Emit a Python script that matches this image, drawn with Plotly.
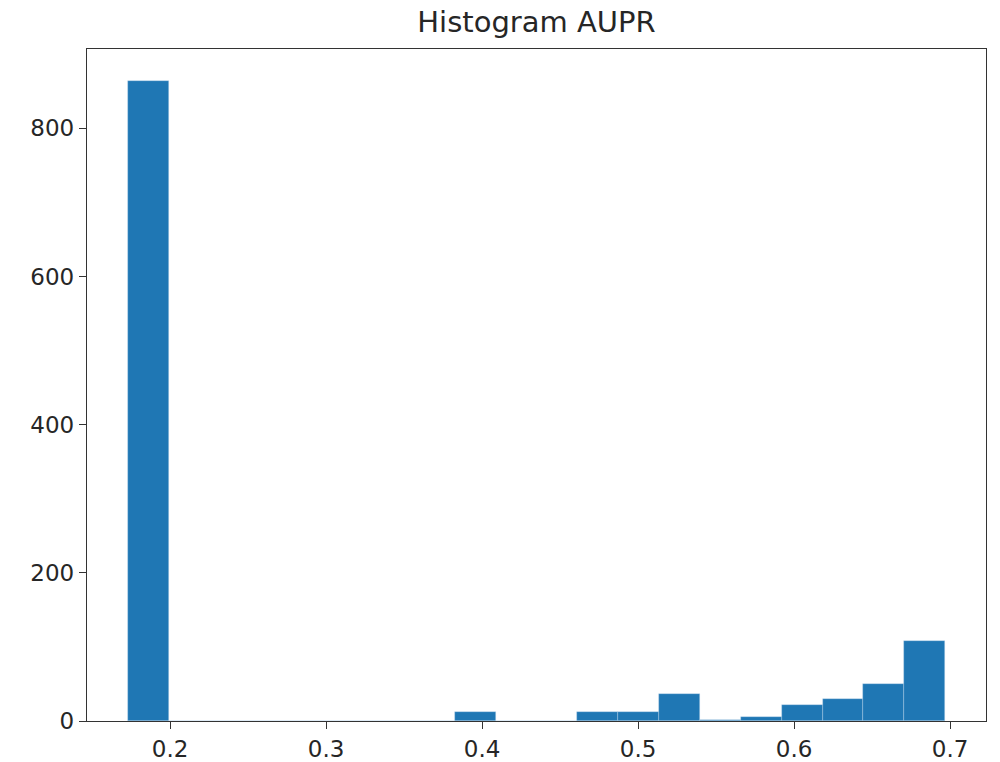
import numpy as np
import plotly.graph_objects as go

# Data
data_min = 0.1729
data_max = 0.6968
n_bins = 20
counts = [864, 0, 0, 0, 0, 0, 0, 0, 12, 0, 0, 12, 12, 36, 2, 5, 21, 30, 50, 108]
x_tick_vals = [0.2, 0.3, 0.4, 0.5, 0.6, 0.7]
x_tick_text = ["0.2", "0.3", "0.4", "0.5", "0.6", "0.7"]
y_tick_vals = [0, 200, 400, 600, 800]
y_tick_text = ["0", "200", "400", "600", "800"]
title_text = "Histogram AUPR"

edges = np.linspace(data_min, data_max, n_bins + 1)
centers = (edges[:-1] + edges[1:]) / 2
width = edges[1] - edges[0]

pad_x = 0.05 * (data_max - data_min)
y_top = max(counts) * 1.05

fig = go.Figure()
fig.add_trace(go.Bar(
    x=centers, y=counts, width=[width] * n_bins,
    marker=dict(color="#1f77b4", line=dict(color="rgba(190,215,235,0.6)", width=0.6)),
    showlegend=False, hoverinfo="x+y",
))

axis_common = dict(
    showline=True, linecolor="#333333", linewidth=1.3, mirror=True,
    ticks="outside", ticklen=7, tickwidth=1.3, tickcolor="#333333",
    showgrid=False, zeroline=False, automargin=False,
    tickfont=dict(family="DejaVu Sans", size=23, color="#262626"),
)

fig.update_layout(
    width=1000, height=762,
    margin=dict(l=87, r=14, t=49, b=41),
    paper_bgcolor="white", plot_bgcolor="white",
    title=dict(text=title_text, x=(87 + 986) / 2 / 1000, xanchor="center",
               y=1 - 22 / 762, yanchor="middle", yref="container", xref="container",
               font=dict(family="DejaVu Sans", size=29, color="#262626")),
    xaxis=dict(range=[data_min - pad_x, data_max + pad_x], tickvals=x_tick_vals,
               ticktext=x_tick_text, **axis_common),
    yaxis=dict(range=[0, y_top], tickvals=y_tick_vals, ticktext=y_tick_text,
               **axis_common),
    bargap=0,
)

fig.write_html("out.html")
